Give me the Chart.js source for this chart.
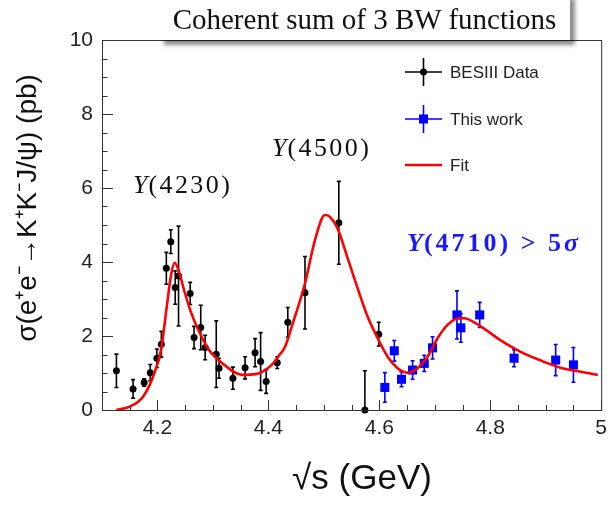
<!DOCTYPE html>
<html lang="en">
<head>
<meta charset="UTF-8">
<title>Coherent sum of 3 BW functions</title>
<script src="https://cdn.jsdelivr.net/npm/chart.js@4"></script>
<style>
    body { margin: 0; background: #ffffff; }
    .wrap { position: relative; width: 613px; height: 505px; overflow: hidden; }
    #chart { position: absolute; left: 0; top: 0; }
    .titlebox {
        position: absolute; left: 159px; top: -6px; width: 411px; height: 46px;
        background: #fff; box-shadow: 5px 5px 4px rgba(0,0,0,0.45);
        font-family: 'Liberation Serif', serif; font-size: 29px; color: #111;
        text-align: center; line-height: 50px; white-space: nowrap;
    }
    .ann { position: absolute; font-family: 'Liberation Serif', serif; font-size: 26px;
           line-height: 1; color: #111; letter-spacing: 2.4px; white-space: nowrap; }
    .ann i { letter-spacing: 1px; }
    .ann.blue { color: #1a1aff; font-weight: bold; letter-spacing: 3px; }
</style>
</head>
<body>
<div class="wrap">
    <canvas id="chart" width="613" height="505"></canvas>
    <div class="titlebox">Coherent sum of 3 BW functions</div>
    <div class="ann" style="left:133px; top:172px;"><i>Y</i>(4230)</div>
    <div class="ann" style="left:272px; top:135px;"><i>Y</i>(4500)</div>
    <div class="ann blue" style="left:407px; top:230px;"><i>Y</i>(4710) &gt; 5<i>σ</i></div>
</div>

<script>
    // BESIII data points
    const besX   = [4.126, 4.156, 4.176, 4.187, 4.199, 4.207, 4.216, 4.224, 4.232, 4.238,
                    4.259, 4.266, 4.278, 4.286, 4.306, 4.311, 4.336, 4.358, 4.376, 4.386,
                    4.396, 4.416, 4.435, 4.466, 4.527, 4.574, 4.599];
    const besY   = [1.06, 0.57, 0.74, 1.01, 1.40, 1.78, 3.83, 4.55, 3.31, 3.62,
                    3.15, 1.96, 2.23, 1.69, 1.51, 1.13, 0.86, 1.14, 1.55, 1.31,
                    0.77, 1.28, 2.37, 3.17, 5.06, 0.00, 2.05];
    const besErr = [0.45, 0.25, 0.10, 0.22, 0.25, 0.35, 0.43, 0.32, 0.45, 1.35,
                    0.30, 0.30, 0.60, 0.33, 0.90, 0.27, 0.30, 0.30, 0.38, 0.78,
                    0.32, 0.16, 0.40, 0.98, 1.12, 1.06, 0.32];

    // this work
    const workX   = [4.610, 4.627, 4.640, 4.660, 4.681, 4.696, 4.740, 4.747, 4.781, 4.843, 4.918, 4.950];
    const workY   = [0.61, 1.60, 0.83, 1.08, 1.26, 1.68, 2.57, 2.22, 2.57, 1.40, 1.35, 1.22];
    const workErr = [0.40, 0.28, 0.20, 0.25, 0.22, 0.30, 0.65, 0.39, 0.34, 0.23, 0.42, 0.47];

    // fit curve
    const fitX = [4.126, 4.150, 4.174, 4.192, 4.207, 4.216, 4.225, 4.231, 4.238, 4.248,
                  4.260, 4.275, 4.293, 4.317, 4.353, 4.377, 4.406, 4.418, 4.430, 4.442,
                  4.466, 4.484, 4.502, 4.511, 4.526, 4.544, 4.562, 4.579, 4.597, 4.615,
                  4.633, 4.651, 4.669, 4.687, 4.705, 4.723, 4.743, 4.752, 4.782, 4.818,
                  4.854, 4.889, 4.925, 4.961, 4.994];
    const fitY = [0.00, 0.09, 0.36, 0.90, 1.67, 2.70, 3.69, 3.98, 3.78, 3.24,
                  2.66, 2.12, 1.62, 1.26, 0.95, 0.97, 1.22, 1.45, 1.71, 2.25,
                  3.42, 4.59, 5.27, 5.22, 4.86, 4.05, 3.24, 2.52, 1.94, 1.44,
                  1.13, 1.01, 1.13, 1.44, 1.94, 2.30, 2.48, 2.48, 2.27, 1.89,
                  1.58, 1.35, 1.15, 1.04, 0.95];

    // axis ticks
    const xTicks = [4.2, 4.4, 4.6, 4.8, 5.0];
    const yTicks = [0, 2, 4, 6, 8, 10];

    const pts = (xs, ys) => xs.map((x, i) => ({ x: x, y: ys[i] }));

    // frame, inward ticks, error bars, legend, axis titles
    const rootStyle = {
        id: 'rootStyle',
        beforeDatasetsDraw(chart) {
            const { ctx, chartArea: a, scales: { x, y } } = chart;
            ctx.save();
            ctx.beginPath();
            ctx.rect(a.left, a.top - 1, a.right - a.left, a.bottom - a.top + 1);
            ctx.clip();
            chart.data.datasets.forEach(ds => {
                if (!ds.err) return;
                ctx.strokeStyle = ds.backgroundColor;
                ctx.lineWidth = 1.6;
                ds.data.forEach((p, i) => {
                    const px = x.getPixelForValue(p.x);
                    const y1 = y.getPixelForValue(p.y - ds.err[i]);
                    const y2 = y.getPixelForValue(p.y + ds.err[i]);
                    ctx.beginPath();
                    ctx.moveTo(px, y1); ctx.lineTo(px, y2);
                    ctx.moveTo(px - 2, y1); ctx.lineTo(px + 2, y1);
                    ctx.moveTo(px - 2, y2); ctx.lineTo(px + 2, y2);
                    ctx.stroke();
                });
            });
            ctx.restore();
        },
        afterDraw(chart) {
            const { ctx, chartArea: a, scales: { x, y } } = chart;
            ctx.save();
            ctx.strokeStyle = '#333';
            ctx.lineWidth = 1;
            ctx.strokeRect(a.left + 0.5, a.top + 0.5, a.right - a.left, a.bottom - a.top);

            ctx.beginPath();
            for (let v = 4.1; v <= 5.0001; v += 0.05) {
                const px = Math.round(x.getPixelForValue(v)) + 0.5;
                const major = xTicks.some(t => Math.abs(t - v) < 1e-6);
                ctx.moveTo(px, a.bottom);
                ctx.lineTo(px, a.bottom - (major ? 10 : 5));
            }
            for (let v = 0; v <= 10.0001; v += 0.5) {
                const py = Math.round(y.getPixelForValue(v)) + 0.5;
                const major = yTicks.some(t => Math.abs(t - v) < 1e-6);
                ctx.moveTo(a.left, py);
                ctx.lineTo(a.left + (major ? 11 : 5.5), py);
            }
            ctx.stroke();

            // legend
            const lx = 405, lw = 37, tx = 450;
            ctx.font = '17px "Liberation Sans", Arial, sans-serif';
            ctx.textBaseline = 'middle';
            ctx.fillStyle = '#222';
            // BESIII
            ctx.strokeStyle = '#000'; ctx.lineWidth = 1.6;
            ctx.beginPath();
            ctx.moveTo(lx, 72); ctx.lineTo(lx + lw, 72);
            ctx.moveTo(lx + lw / 2, 58); ctx.lineTo(lx + lw / 2, 86);
            ctx.stroke();
            ctx.fillStyle = '#000';
            ctx.beginPath(); ctx.arc(lx + lw / 2, 72, 3.5, 0, Math.PI * 2); ctx.fill();
            ctx.fillStyle = '#222';
            ctx.fillText('BESIII Data', tx, 73);
            // this work
            ctx.strokeStyle = '#0000ff';
            ctx.beginPath();
            ctx.moveTo(lx, 119); ctx.lineTo(lx + lw, 119);
            ctx.moveTo(lx + lw / 2, 105); ctx.lineTo(lx + lw / 2, 133);
            ctx.stroke();
            ctx.fillStyle = '#0000ff';
            ctx.fillRect(lx + lw / 2 - 4.5, 114.5, 9, 9);
            ctx.fillStyle = '#222';
            ctx.fillText('This work', tx, 120);
            // fit
            ctx.strokeStyle = '#ff0000'; ctx.lineWidth = 2.5;
            ctx.beginPath(); ctx.moveTo(lx, 165); ctx.lineTo(lx + lw, 165); ctx.stroke();
            ctx.fillText('Fit', tx, 166);

            // axis titles
            ctx.fillStyle = '#111';
            ctx.textAlign = 'center';
            ctx.font = '35px "Liberation Sans", Arial, sans-serif';
            ctx.fillText('√s (GeV)', 362, 479);
            ctx.translate(28, 208);
            ctx.rotate(-Math.PI / 2);
            ctx.font = '28px "Liberation Sans", Arial, sans-serif';
            ctx.fillText('σ(e⁺e⁻→K⁺K⁻J/ψ) (pb)', 0, 0);
            ctx.restore();
        }
    };

    Chart.defaults.font.family = '"Liberation Sans", Arial, sans-serif';
    Chart.defaults.color = '#222';

    new Chart(document.getElementById('chart'), {
        type: 'scatter',
        data: {
            datasets: [
                {
                    label: 'Fit',
                    data: pts(fitX, fitY),
                    showLine: true,
                    borderColor: '#ff0000',
                    borderWidth: 2.6,
                    pointRadius: 0,
                    cubicInterpolationMode: 'monotone',
                    clip: 0
                },
                {
                    label: 'BESIII Data',
                    data: pts(besX, besY),
                    err: besErr,
                    backgroundColor: '#000000',
                    borderColor: '#000000',
                    pointStyle: 'circle',
                    pointRadius: 3.5,
                    borderWidth: 0,
                    clip: false
                },
                {
                    label: 'This work',
                    data: pts(workX, workY),
                    err: workErr,
                    backgroundColor: '#0000ff',
                    borderColor: '#0000ff',
                    pointStyle: 'rect',
                    pointRadius: 6.4,
                    borderWidth: 0,
                    clip: false
                }
            ]
        },
        options: {
            responsive: false,
            animation: false,
            layout: { padding: { top: 40, right: 8, left: 0, bottom: 0 } },
            plugins: { legend: { display: false }, tooltip: { enabled: false } },
            scales: {
                x: {
                    type: 'linear', min: 4.1, max: 5.0,
                    grid: { display: false, drawTicks: false },
                    border: { display: false },
                    afterBuildTicks: s => { s.ticks = xTicks.map(v => ({ value: v })); },
                    afterFit: s => { s.height = 95; },
                    ticks: {
                        padding: 6, maxRotation: 0, minRotation: 0,
                        font: { size: 21 },
                        callback: v => String(Math.round(v * 10) / 10)
                    }
                },
                y: {
                    min: 0, max: 10,
                    grid: { display: false, drawTicks: false },
                    border: { display: false },
                    afterBuildTicks: s => { s.ticks = yTicks.map(v => ({ value: v })); },
                    afterFit: s => { s.width = 102; },
                    ticks: { padding: 9, font: { size: 21 } }
                }
            }
        },
        plugins: [rootStyle]
    });
</script>
</body>
</html>
